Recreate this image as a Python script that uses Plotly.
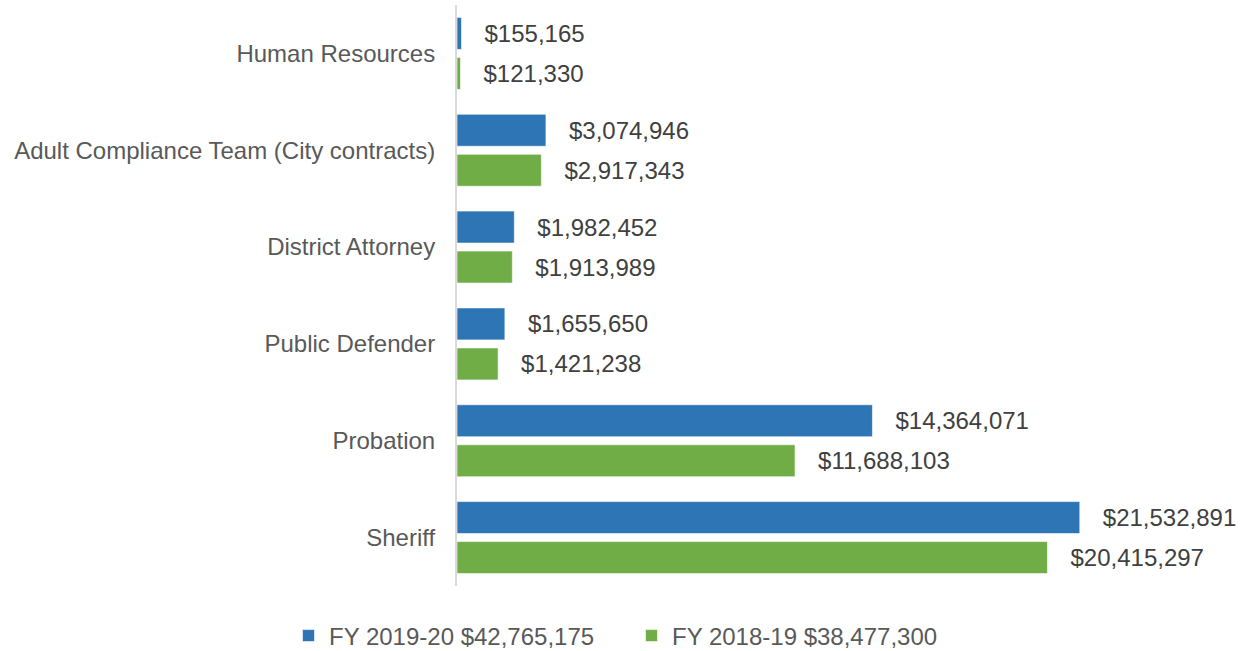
import plotly.graph_objects as go

categories = ["Human Resources", "Adult Compliance Team (City contracts)", "District Attorney",
              "Public Defender", "Probation", "Sheriff"]
fy2019_20 = [155165, 3074946, 1982452, 1655650, 14364071, 21532891]
fy2018_19 = [121330, 2917343, 1913989, 1421238, 11688103, 20415297]
series_names = ["FY 2019-20 $42,765,175", "FY 2018-19 $38,477,300"]
colors = ["#2E75B6", "#70AD47"]

FONT = "Liberation Sans, Arial, sans-serif"
pad = "\u00a0\u00a0\u00a0"

fig = go.Figure()
for name, vals, col in zip(series_names, [fy2019_20, fy2018_19], colors):
    fig.add_trace(go.Bar(
        y=categories, x=vals, orientation="h", name=name,
        marker=dict(color=col, line=dict(color="rgba(255,255,255,0.6)", width=1)),
        texttemplate=pad + "$%{x:,}", textposition="outside",
        textfont=dict(family=FONT, size=24, color="#404040"),
        constraintext="none", cliponaxis=False, hoverinfo="skip",
    ))

fig.update_layout(
    width=1243, height=651,
    margin=dict(l=457, r=34, t=5, b=65, autoexpand=False),
    paper_bgcolor="white", plot_bgcolor="white",
    barmode="group", bargap=0.174, bargroupgap=0.2,
    font=dict(family=FONT, size=24, color="#595959"),
    xaxis=dict(range=[0, 26e6], visible=False, automargin=False),
    yaxis=dict(autorange="reversed", showline=True, linecolor="#D9D9D9", linewidth=2,
               ticks="", ticklabelstandoff=15, showgrid=False, automargin=False,
               tickfont=dict(family=FONT, size=24, color="#595959")),
    legend=dict(orientation="h", x=(631 - 457) / 752, xanchor="center",
                y=-(636 - 586) / 581, yanchor="middle",
                font=dict(family=FONT, size=24, color="#595959"),
                itemwidth=31, entrywidth=297, traceorder="normal"),
    showlegend=True,
)

fig.write_html("out.html", post_script="document.body.style.margin='0';",
               config={"displayModeBar": False})
